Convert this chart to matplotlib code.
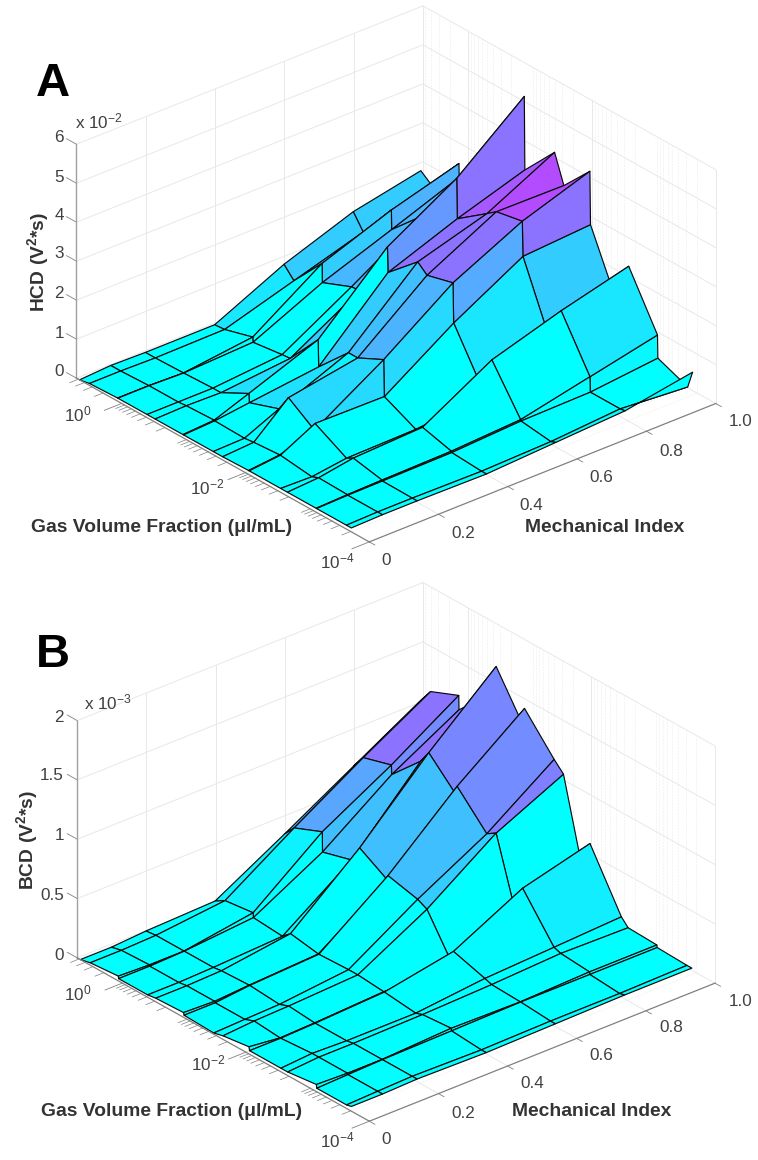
import numpy as np
import matplotlib
matplotlib.use('Agg')
import matplotlib.pyplot as plt

plt.rcParams['font.family'] = ['Liberation Sans', 'DejaVu Sans']
plt.rcParams['mathtext.fontset'] = 'custom'
plt.rcParams['mathtext.rm'] = 'Liberation Sans'
plt.rcParams['mathtext.bf'] = 'Liberation Sans:bold'
plt.rcParams['mathtext.default'] = 'regular'

W, H = 758, 1160

# mechanical index (columns) and gas volume fraction in ul/mL (rows)
mech_index = [0.0, 0.09, 0.19, 0.39, 0.59, 0.79, 0.985]
gas_fraction = [4.79, 3.31, 1.16, 1.15, 0.389, 0.288, 0.102, 0.1, 0.0331, 0.0234,
                0.0089, 0.0087, 0.0027, 0.0021, 0.00072, 0.00071, 0.000234, 0.000195]

# HCD, x 1e-2 V^2*s
hcd = [
    [0.00, 0.05, 0.03, 0.03, 0.87, 1.51, 1.87],
    [0.05, 0.05, 0.03, 0.05, 0.59, 1.13, 1.67],
    [0.08, 0.08, 0.05, 0.26, 1.44, 2.10, 2.60],
    [0.08, 0.08, 0.05, 0.13, 0.95, 1.60, 2.25],
    [0.08, 0.08, 0.08, 0.23, 1.26, 2.35, 2.90],
    [0.08, 0.10, 0.08, 0.25, 1.28, 2.60, 3.00],
    [0.08, 0.13, 0.46, 1.13, 2.80, 3.85, 5.26],
    [0.08, 0.12, 0.23, 0.44, 2.15, 2.82, 3.38],
    [0.08, 0.10, 0.50, 1.23, 2.85, 3.38, 4.26],
    [0.08, 0.13, 0.92, 1.23, 2.64, 3.56, 3.54],
    [0.10, 0.18, 0.46, 1.56, 2.82, 3.69, 4.28],
    [0.10, 0.18, 0.64, 0.62, 1.80, 2.80, 2.92],
    [0.10, 0.08, 0.20, 0.23, 0.40, 0.75, 1.00],
    [0.10, 0.15, 0.30, 0.38, 1.40, 1.95, 2.40],
    [0.10, 0.13, 0.15, 0.18, 0.28, 0.67, 1.05],
    [0.10, 0.12, 0.13, 0.15, 0.25, 0.28, 0.46],
    [0.10, 0.12, 0.12, 0.10, 0.15, 0.28, 0.15],
    [0.10, 0.12, 0.12, 0.10, 0.20, 0.30, 0.60],
]

# colour index of each HCD facet, 0 cyan .. 1 magenta
hcd_color = [
    [0, 0, 0, 0.10, 0.20, 0.20],
    [0, 0, 0, 0, 0.20, 0.25],
    [0, 0, 0, 0, 0.20, 0.30],
    [0, 0, 0, 0, 0.28, 0.30],
    [0, 0, 0, 0, 0.28, 0.30],
    [0, 0, 0.12, 0.20, 0.30, 0.35],
    [0, 0, 0, 0, 0.40, 0.55],
    [0, 0, 0.12, 0.20, 0.55, 0.65],
    [0, 0, 0.05, 0.25, 0.55, 0.70],
    [0, 0, 0.15, 0.30, 0.55, 0.70],
    [0, 0, 0.15, 0.15, 0.33, 0.55],
    [0, 0, 0, 0, 0.10, 0.20],
    [0, 0, 0, 0, 0.10, 0.15],
    [0, 0, 0, 0, 0, 0.10],
    [0, 0, 0, 0, 0, 0.03],
    [0, 0, 0, 0, 0, 0],
    [0, 0, 0, 0, 0, 0],
]

# BCD, x 1e-3 V^2*s
bcd = [
    [0.00, 0.00, 0.02, 0.04, 0.37, 0.71, 1.04],
    [0.02, 0.02, 0.03, 0.09, 0.47, 0.83, 1.16],
    [0.04, 0.03, 0.03, 0.12, 0.57, 0.90, 1.26],
    [0.02, 0.02, 0.03, 0.08, 0.40, 0.82, 1.14],
    [0.02, 0.02, 0.03, 0.06, 0.47, 1.07, 1.40],
    [0.03, 0.03, 0.04, 0.12, 0.61, 1.18, 1.68],
    [0.04, 0.03, 0.05, 0.08, 0.47, 0.95, 1.30],
    [0.02, 0.02, 0.05, 0.08, 0.51, 1.03, 1.46],
    [0.01, 0.02, 0.03, 0.09, 0.45, 0.77, 1.17],
    [0.03, 0.05, 0.06, 0.09, 0.41, 0.82, 1.09],
    [0.06, 0.03, 0.04, 0.07, 0.06, 0.05, 0.12],
    [0.03, 0.03, 0.04, 0.07, 0.18, 0.48, 0.63],
    [0.03, 0.05, 0.04, 0.04, 0.10, 0.13, 0.16],
    [0.03, 0.05, 0.05, 0.06, 0.08, 0.11, 0.10],
    [0.06, 0.05, 0.05, 0.08, 0.07, 0.09, 0.09],
    [0.03, 0.04, 0.05, 0.06, 0.07, 0.07, 0.07],
    [0.03, 0.04, 0.05, 0.04, 0.05, 0.05, 0.06],
    [0.04, 0.04, 0.05, 0.04, 0.05, 0.06, 0.06],
]

bcd_color = [
    [0, 0, 0, 0.05, 0.30, 0.50],
    [0, 0, 0, 0.05, 0.35, 0.55],
    [0, 0, 0, 0, 0.25, 0.45],
    [0, 0, 0, 0, 0.25, 0.55],
    [0, 0, 0, 0, 0.25, 0.50],
    [0, 0, 0, 0, 0.25, 0.47],
    [0, 0, 0, 0, 0.25, 0.47],
    [0, 0, 0, 0, 0.25, 0.45],
    [0, 0, 0, 0, 0.20, 0.50],
    [0, 0, 0, 0, 0, 0],
    [0, 0, 0, 0, 0, 0],
    [0, 0, 0, 0, 0.02, 0.07],
    [0, 0, 0, 0, 0, 0],
    [0, 0, 0, 0, 0, 0],
    [0, 0, 0, 0, 0, 0],
    [0, 0, 0, 0, 0, 0],
    [0, 0, 0, 0, 0, 0],
]

mi_ticks = [0.2, 0.4, 0.6, 0.8]
gvf_decades = [0, -2, -4]
hcd_ticks = [0, 1, 2, 3, 4, 5, 6]
bcd_ticks = [0, 0.5, 1, 1.5, 2]

Y_MIN, Y_MAX = -4, 0.73
GRID = '#e8e8e8'
AXIS = '#808080'
TXT = '#404040'
LAB = '#333333'


def minor_logs():
    vals = []
    for d in range(-4, 1):
        vals += [d + np.log10(k) for k in range(2, 10)]
    return [v for v in vals if v < Y_MAX]


def px_text(x, y, s, **kw):
    return fig.text(x / W, 1 - y / H, s, ha='center', va='center', **kw)


def draw_box(ax, zmax, zticks):
    for mi in mi_ticks:
        ax.plot([mi, mi], [Y_MAX, Y_MAX], [0, zmax], color=GRID, lw=0.7, zorder=1)
        ax.plot([mi, mi], [Y_MIN, Y_MAX], [0, 0], color=GRID, lw=0.7, zorder=1)
    for g in gvf_decades[:2]:
        ax.plot([1, 1], [g, g], [0, zmax], color=GRID, lw=0.7, zorder=1)
        ax.plot([0, 1], [g, g], [0, 0], color=GRID, lw=0.7, zorder=1)
    for g in minor_logs():
        ax.plot([1, 1], [g, g], [0, zmax], color='#dcdcdc', lw=0.4, ls=':', zorder=1)
        ax.plot([0, 1], [g, g], [0, 0], color='#dcdcdc', lw=0.4, ls=':', zorder=1)
    for z in zticks:
        ax.plot([0, 1], [Y_MAX, Y_MAX], [z, z], color=GRID, lw=0.7, zorder=1)
        ax.plot([1, 1], [Y_MIN, Y_MAX], [z, z], color=GRID, lw=0.7, zorder=1)
        ax.plot([0, 0], [Y_MAX, Y_MAX + 0.16], [z, z], color=AXIS, lw=0.6, zorder=4)
    # back edges
    ax.plot([1, 1], [Y_MAX, Y_MAX], [0, zmax], color=GRID, lw=0.7, zorder=1)
    ax.plot([1, 1], [Y_MIN, Y_MIN], [0, zmax], color=GRID, lw=0.7, zorder=1)
    # axis lines
    ax.plot([0, 0], [Y_MAX, Y_MAX], [0, zmax], color='#a0a0a0', lw=1.0, zorder=4)
    ax.plot([0, 0], [Y_MIN, Y_MAX], [0, 0], color=AXIS, lw=0.9, zorder=4)
    ax.plot([0, 1], [Y_MIN, Y_MIN], [0, 0], color=AXIS, lw=0.9, zorder=4)
    # ticks
    for mi in [0] + mi_ticks + [1]:
        ax.plot([mi, mi], [Y_MIN, Y_MIN - 0.09], [0, 0], color=AXIS, lw=0.6, zorder=4)
    for g in gvf_decades:
        ax.plot([0, -0.05], [g, g], [0, 0], color=AXIS, lw=0.6, zorder=4)
    for g in minor_logs():
        ax.plot([0, -0.025], [g, g], [0, 0], color=AXIS, lw=0.5, zorder=4)


def surface_panel(left, bottom, z, c, zmax, zticks, z_aspect):
    size = 674
    ax = fig.add_axes([left / W, bottom / H, size / W, size / H], projection='3d',
                      computed_zorder=False)
    ax.set_proj_type('ortho')
    ax.view_init(elev=28.2, azim=-130.2)
    ax.set_box_aspect((1, 1, z_aspect))
    ax.set_xlim(0, 1, view_margin=0)
    ax.set_ylim(Y_MIN, Y_MAX, view_margin=0)
    ax.set_zlim(0, zmax, view_margin=0)
    ax.set_autoscale_on(False)
    ax.set_axis_off()
    ax.patch.set_alpha(0)

    draw_box(ax, zmax, zticks)

    xg, yg = np.meshgrid(mech_index, np.log10(gas_fraction))
    fc = plt.cm.cool(np.array(c, dtype=float))
    fc = np.pad(fc, ((0, 1), (0, 1), (0, 0)), mode='edge')
    surf = ax.plot_surface(xg, yg, np.array(z), facecolors=fc, rstride=1, cstride=1,
                           shade=False, zorder=3)
    surf.set_edgecolor('#0a0a0a')
    surf.set_linewidth(0.85)
    return ax


fig = plt.figure(figsize=(W / 100, H / 100), dpi=100)

surface_panel(50, 540, hcd, hcd_color, 6, hcd_ticks, 0.585)
surface_panel(50, -38, bcd, bcd_color, 2, bcd_ticks, 0.595)

tick_font = dict(fontsize=12.3, color=TXT)
bold_font = dict(fontsize=13.9, fontweight='bold', color=LAB)

# panel A text
px_text(53, 84, 'A', fontsize=34, fontweight='bold', color='black')
for z, y in zip(hcd_ticks, [372, 333, 294, 254, 215, 177, 137]):
    px_text(59, y, str(z), **tick_font)
px_text(99, 121, r'x 10$^{-2}$', **tick_font)
for s, x, y in [('10$^{0}$', 78, 414), ('10$^{-2}$', 207, 487), ('10$^{-4}$', 337, 561)]:
    px_text(x, y, s, **tick_font)
for s, x, y in [('0', 386, 560), ('0.2', 463, 533), ('0.4', 531, 505), ('0.6', 601, 478),
                ('0.8', 671, 452), ('1.0', 741, 422)]:
    px_text(x, y, s, **tick_font)
px_text(162, 527, 'Gas Volume Fraction (μl/mL)', **bold_font)
px_text(605, 528, 'Mechanical Index', **bold_font)
px_text(38, 262, r'HCD (V$^{\mathbf{2}}$*s)', rotation=90, **bold_font)

# panel B text
px_text(53, 655, 'B', fontsize=34, fontweight='bold', color='black')
for s, x, y in [('0', 59, 955), ('0.5', 52, 896), ('1', 59, 836), ('1.5', 52, 776), ('2', 59, 717)]:
    px_text(x, y, s, **tick_font)
px_text(108, 702, r'x 10$^{-3}$', **tick_font)
for s, x, y in [('10$^{0}$', 78, 993), ('10$^{-2}$', 208, 1063), ('10$^{-4}$', 337, 1140)]:
    px_text(x, y, s, **tick_font)
for s, x, y in [('0', 386, 1140), ('0.2', 463, 1113), ('0.4', 532, 1084), ('0.6', 601, 1056),
                ('0.8', 671, 1028), ('1.0', 741, 1002)]:
    px_text(x, y, s, **tick_font)
px_text(172, 1112, 'Gas Volume Fraction (μl/mL)', **bold_font)
px_text(592, 1112, 'Mechanical Index', **bold_font)
px_text(27, 840, r'BCD (V$^{\mathbf{2}}$*s)', rotation=90, **bold_font)

fig.savefig('out.png', dpi=100)
